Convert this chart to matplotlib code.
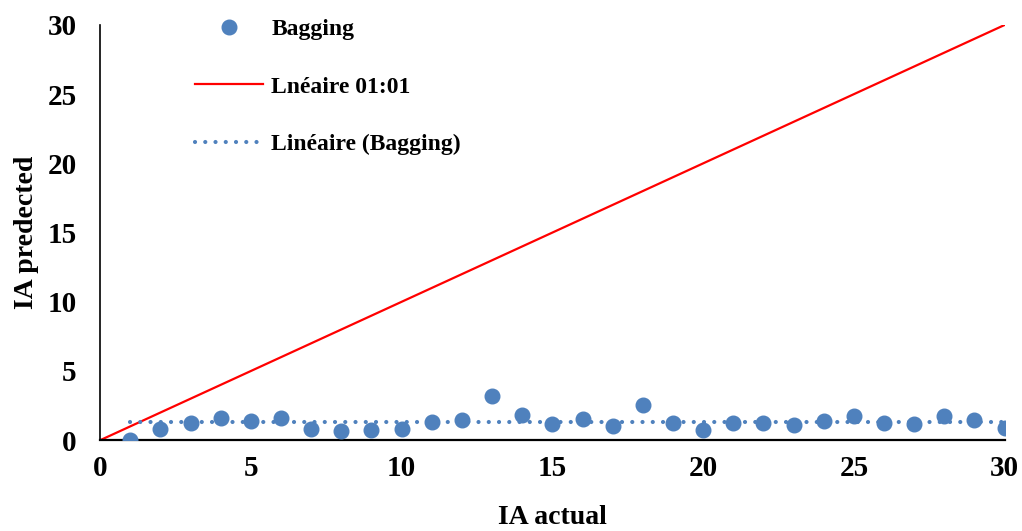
import numpy as np
import matplotlib.pyplot as plt

plt.rcParams['font.family'] = ['Liberation Serif', 'DejaVu Serif']
plt.rcParams['font.weight'] = 'bold'

# data
ia_actual = np.arange(1, 31)
ia_pred = [0.0, 0.8, 1.25, 1.6, 1.42, 1.6, 0.8, 0.67, 0.72, 0.8,
           1.32, 1.45, 3.18, 1.81, 1.2, 1.54, 1.01, 2.55, 1.25, 0.77,
           1.25, 1.25, 1.13, 1.4, 1.74, 1.25, 1.16, 1.74, 1.45, 0.89]
ref_line = [0, 30]
x_ticks = [0, 5, 10, 15, 20, 25, 30]
y_ticks = [0, 5, 10, 15, 20, 25, 30]

blue = '#4F81BD'

fig = plt.figure(figsize=(10.22, 5.31), dpi=100)
ax = fig.add_axes([0.098, 0.171, 0.885, 0.782])

# trend of the Bagging points (flat in the original chart)
xt = np.array([ia_actual[0], ia_actual[-1]])
yt = np.full(2, np.mean(ia_pred))

ax.plot(ia_actual, ia_pred, 'o', color=blue, ms=10.5, label='Bagging', zorder=3)
ax.plot(ref_line, ref_line, color='#FF0000', lw=1.6, label='Lnéaire 01:01', zorder=2)
ax.plot(xt, yt, color=blue, lw=3, linestyle=(0, (0.01, 2.45)),
        dash_capstyle='round', label='Linéaire (Bagging)', zorder=2)

ax.set_xlim(0, 30)
ax.set_ylim(0, 30)
ax.set_xticks(x_ticks)
ax.set_yticks(y_ticks)
ax.tick_params(length=0, labelsize=21)
ax.tick_params(axis='x', pad=11)
ax.tick_params(axis='y', pad=17)
for lab in ax.get_xticklabels() + ax.get_yticklabels():
    lab.set_fontweight('bold')

ax.spines['top'].set_visible(False)
ax.spines['right'].set_visible(False)
ax.spines['left'].set_linewidth(1.2)
ax.spines['bottom'].set_linewidth(1.6)

ax.set_xlabel('IA actual', fontsize=20, fontweight='bold', labelpad=16)
ax.set_ylabel('IA predected', fontsize=20, fontweight='bold', labelpad=6)

ax.legend(loc='upper left', bbox_to_anchor=(0.170, 1.005), bbox_transform=fig.transFigure,
          frameon=False, handlelength=2.9, handletextpad=0.34,
          labelspacing=1.52, prop={'weight': 'bold', 'size': 17})

fig.savefig('out.png', dpi=100)
